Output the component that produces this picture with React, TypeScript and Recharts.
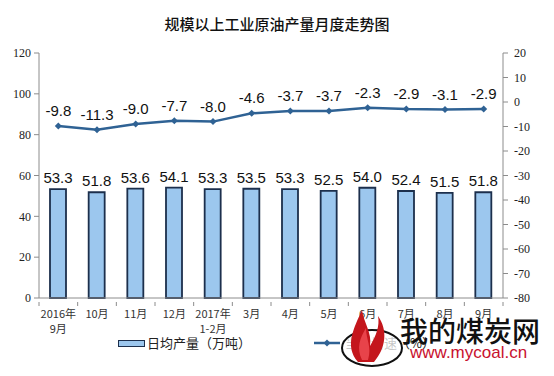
import React from "react";
import {
  Bar,
  ComposedChart,
  LabelList,
  Line,
  XAxis,
  YAxis,
} from "recharts";

const months = [
  "2016年\n9月",
  "10月",
  "11月",
  "12月",
  "2017年\n1-2月",
  "3月",
  "4月",
  "5月",
  "6月",
  "7月",
  "8月",
  "9月",
];
const dailyOutput = [53.3, 51.8, 53.6, 54.1, 53.3, 53.5, 53.3, 52.5, 54.0, 52.4, 51.5, 51.8];
const growth = [-9.8, -11.3, -9.0, -7.7, -8.0, -4.6, -3.7, -3.7, -2.3, -2.9, -3.1, -2.9];
const leftTicks = [0, 20, 40, 60, 80, 100, 120];
const rightTicks = [-80, -70, -60, -50, -40, -30, -20, -10, 0, 10, 20];

const data = months.map((m, i) => ({ month: m, output: dailyOutput[i], growth: growth[i] }));

const W = 554;
const H = 376;
const PLOT_LEFT = 39;
const PLOT_RIGHT = 503;
const BAND = (PLOT_RIGHT - PLOT_LEFT) / months.length;

const BAR_FILL = "#9cc7ee";
const BAR_STROKE = "#1c2f4c";
const LINE = "#2f6294";
const AXIS = "#8c8c8c";
const serif = "'Liberation Serif', 'DejaVu Serif', serif";
const sans = "'Liberation Sans', Arial, sans-serif";
const cjk = "'Noto Sans CJK SC', 'Noto Sans', sans-serif";

// category labels may be two lines; boundary ticks sit between bands
function MonthTick({ x = 0, y = 0, payload, index = 0 }: any) {
  const lines = String(payload?.value ?? "").split("\n");
  return (
    <g>
      <line x1={x - BAND / 2} x2={x - BAND / 2} y1={y - 4} y2={y} stroke={AXIS} />
      {index === months.length - 1 && (
        <line x1={x + BAND / 2} x2={x + BAND / 2} y1={y - 4} y2={y} stroke={AXIS} />
      )}
      {lines.map((t, i) => (
        <text
          key={i}
          x={x}
          y={y + 12 + i * 15}
          textAnchor="middle"
          fontSize={11}
          fontFamily={cjk}
          fill="#333"
        >
          {t}
        </text>
      ))}
    </g>
  );
}

function Diamond({ cx, cy }: any) {
  if (cx == null || cy == null) return null;
  const r = 3.5;
  return (
    <path
      d={`M${cx},${cy - r}L${cx + r},${cy}L${cx},${cy + r}L${cx - r},${cy}Z`}
      fill={LINE}
    />
  );
}

export default function App() {
  return (
    <div
      style={{
        position: "absolute",
        left: 0,
        top: 0,
        width: W,
        height: H,
        background: "#fff",
        overflow: "hidden",
      }}
    >
      <div
        style={{
          position: "absolute",
          top: 14,
          width: W,
          textAlign: "center",
          fontFamily: cjk,
          fontSize: 15,
          lineHeight: "20px",
          fontWeight: 500,
          color: "#111",
        }}
      >
        规模以上工业原油产量月度走势图
      </div>
      <ComposedChart
        width={W}
        height={H}
        data={data}
        margin={{ top: 53, right: 0, left: 0, bottom: 44 }}
        barCategoryGap={0}
      >
        <XAxis
          dataKey="month"
          height={34}
          interval={0}
          tickLine={false}
          axisLine={{ stroke: AXIS }}
          tick={<MonthTick />}
        />
        <YAxis
          yAxisId="left"
          width={39}
          domain={[0, 120]}
          ticks={leftTicks}
          interval={0}
          axisLine={{ stroke: AXIS }}
          tickLine={{ stroke: AXIS }}
          tickSize={5}
          tickMargin={3}
          tick={{ fontSize: 12, fontFamily: serif, fill: "#222" }}
        />
        <YAxis
          yAxisId="right"
          orientation="right"
          width={51}
          domain={[-80, 20]}
          ticks={rightTicks}
          interval={0}
          axisLine={{ stroke: AXIS }}
          tickLine={{ stroke: AXIS }}
          tickSize={5}
          tickMargin={4}
          tick={{ fontSize: 12, fontFamily: serif, fill: "#222", dx: 2 }}
        />
        <Bar
          yAxisId="left"
          dataKey="output"
          barSize={16}
          fill={BAR_FILL}
          stroke={BAR_STROKE}
          strokeWidth={1.8}
          isAnimationActive={false}
        >
          <LabelList
            dataKey="output"
            position="top"
            offset={6}
            fontSize={15}
            fontFamily={sans}
            fill="#111"
            formatter={(v: any) => Number(v).toFixed(1)}
          />
        </Bar>
        <Line
          yAxisId="right"
          dataKey="growth"
          stroke={LINE}
          strokeWidth={2.5}
          dot={<Diamond />}
          activeDot={false}
          isAnimationActive={false}
        >
          <LabelList
            dataKey="growth"
            position="top"
            offset={10}
            fontSize={15}
            fontFamily={sans}
            fill="#111"
            formatter={(v: any) => Number(v).toFixed(1)}
          />
        </Line>
      </ComposedChart>

      {/* legend */}
      <div
        style={{
          position: "absolute",
          left: 118,
          top: 340,
          width: 25,
          height: 5,
          background: BAR_FILL,
          border: `1.5px solid ${BAR_STROKE}`,
        }}
      />
      <div
        style={{
          position: "absolute",
          left: 147,
          top: 334,
          fontFamily: cjk,
          fontSize: 13,
          lineHeight: "18px",
          color: "#222",
          whiteSpace: "nowrap",
        }}
      >
        日均产量（万吨）
      </div>
      <svg style={{ position: "absolute", left: 312, top: 336 }} width={30} height={14}>
        <line x1={2} x2={28} y1={7} y2={7} stroke={LINE} strokeWidth={2.5} />
        <path d="M15,3.5L18.5,7L15,10.5L11.5,7Z" fill={LINE} />
      </svg>
      <div
        style={{
          position: "absolute",
          left: 345,
          top: 334,
          fontFamily: cjk,
          fontSize: 13,
          lineHeight: "18px",
          color: "#222",
          whiteSpace: "nowrap",
        }}
      >
        当月增速（%）
      </div>

      {/* watermark */}
      <svg style={{ position: "absolute", left: 336, top: 302 }} width={70} height={70}>
        <ellipse cx={36} cy={46} rx={30} ry={18} fill="rgba(255,255,255,0.75)" stroke="#111" strokeWidth={2} />
        <path d="M22,60 C8,44 18,26 26,8 C28,22 36,30 34,44 C40,34 44,24 42,14 C52,28 50,46 38,60 Z" fill="#c4161c" />
        <path d="M26,58 C20,46 24,36 30,26 C30,38 36,44 32,58 Z" fill="#e8434a" />
      </svg>
      <div
        style={{
          position: "absolute",
          left: 400,
          top: 316,
          fontFamily: cjk,
          fontSize: 28,
          fontWeight: 500,
          color: "#111",
          whiteSpace: "nowrap",
          lineHeight: "28px",
        }}
      >
        我的煤炭网
      </div>
      <div
        style={{
          position: "absolute",
          left: 410,
          top: 344,
          fontFamily: sans,
          fontSize: 17,
          lineHeight: "18px",
          color: "#c8102e",
          whiteSpace: "nowrap",
        }}
      >
        www.mycoal.cn
      </div>
    </div>
  );
}
